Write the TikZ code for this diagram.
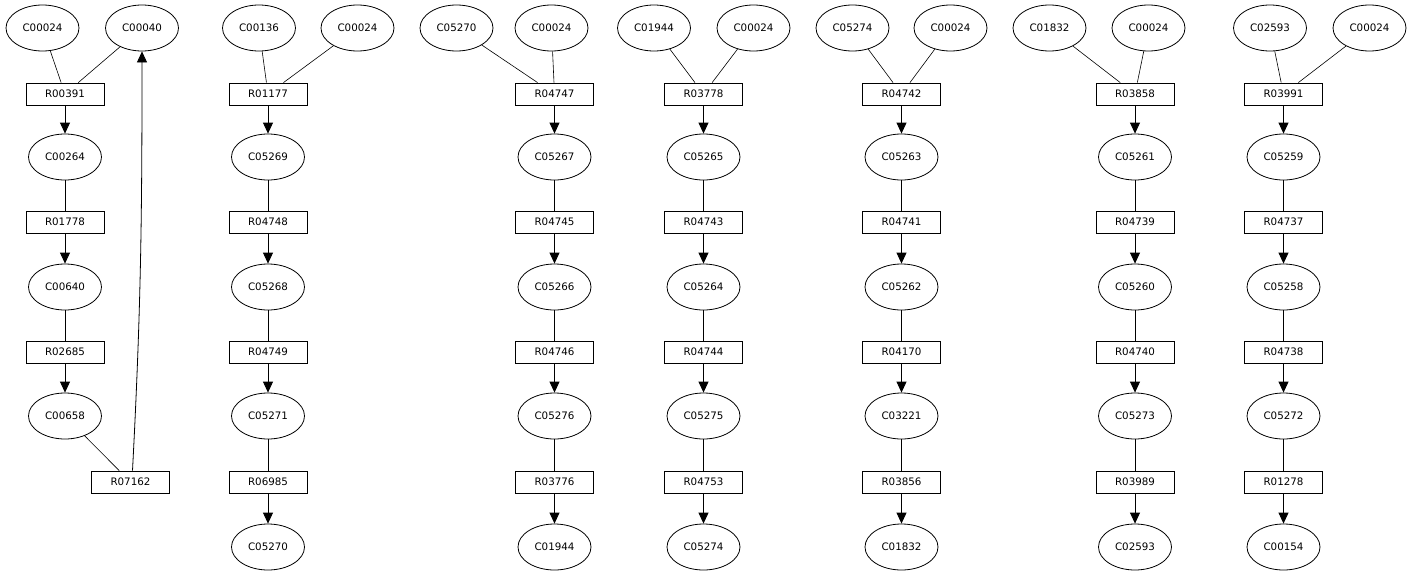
\documentclass[tikz,border=0pt]{standalone}
\usepackage{fontspec}
\setmainfont{DejaVu Sans}
\usetikzlibrary{arrows.meta,shapes.geometric}
\tikzset{
  cpd/.style={ellipse, draw, line width=0.8pt, minimum width=73pt, minimum height=46pt, inner sep=0pt, font=\fontsize{10.3}{12}\selectfont},
  rxn/.style={rectangle, draw, line width=0.8pt, minimum width=78pt, minimum height=22pt, inner sep=0pt, font=\fontsize{10.3}{12}\selectfont},
  link/.style={line width=0.6pt},
  arr/.style={line width=0.8pt, -{Triangle[length=11pt,width=10pt]}},
}
\newcommand\mychain[9]{%
  \node[rxn] (#2r1) at (#1,94) {#3};
  \node[cpd] (#2c1) at (#1,157) {#4};
  \node[rxn] (#2r2) at (#1,222) {#5};
  \node[cpd] (#2c2) at (#1,287) {#6};
  \node[rxn] (#2r3) at (#1,352) {#7};
  \node[cpd] (#2c3) at (#1,416) {#8};
  \node[rxn] (#2r4) at (#1,482) {#9};
  \draw[arr] (#2r1) -- (#2c1);
  \draw[link] (#2c1) -- (#2r2);
  \draw[arr] (#2r2) -- (#2c2);
  \draw[link] (#2c2) -- (#2r3);
  \draw[arr] (#2r3) -- (#2c3);
  \draw[link] (#2c3) -- (#2r4);
}
\newcommand\mytop[5]{% left x, left label, right x, right label, prefix
  \node[cpd] (#5a) at (#1,28) {#2};
  \node[cpd] (#5b) at (#3,28) {#4};
  \draw[link] (#5a) -- (#5r1);
  \draw[link] (#5b) -- (#5r1);
}
\newcommand\myend[3]{% x, prefix, label
  \node[cpd] (#2c4) at (#1,547) {#3};
  \draw[arr] (#2r4) -- (#2c4);
}
\begin{document}
\begin{tikzpicture}[x=1pt,y=-1pt]
\useasboundingbox (0,0) rectangle (1411,576);
% column 1
\node[rxn] (ar1) at (65,94) {R00391};
\node[cpd] (ac1) at (65,157) {C00264};
\node[rxn] (ar2) at (65,222) {R01778};
\node[cpd] (ac2) at (65,287) {C00640};
\node[rxn] (ar3) at (65,352) {R02685};
\node[cpd] (ac3) at (65,416) {C00658};
\node[rxn] (ar4) at (130.5,482) {R07162};
\node[cpd] (aa) at (42.5,28) {C00024};
\node[cpd] (ab) at (142,28) {C00040};
\draw[link] (aa) -- (ar1);
\draw[link] (ab) -- (ar1);
\draw[arr] (ar1) -- (ac1);
\draw[link] (ac1) -- (ar2);
\draw[arr] (ar2) -- (ac2);
\draw[link] (ac2) -- (ar3);
\draw[arr] (ar3) -- (ac3);
\draw[link] (ac3) -- (ar4);
\coordinate (ap) at ([xshift=2pt]ar4.north);
\draw[arr] (ap) to[out=87,in=-90] (ab.south);
% column 2
\mychain{268}{b}{R01177}{C05269}{R04748}{C05268}{R04749}{C05271}{R06985}
\mytop{259}{C00136}{357.5}{C00024}{b}
\myend{268}{b}{C05270}
% column 3
\mychain{554.5}{c}{R04747}{C05267}{R04745}{C05266}{R04746}{C05276}{R03776}
\mytop{456.5}{C05270}{551.5}{C00024}{c}
\myend{554.5}{c}{C01944}
% column 4
\mychain{703.5}{d}{R03778}{C05265}{R04743}{C05264}{R04744}{C05275}{R04753}
\mytop{654}{C01944}{753.5}{C00024}{d}
\myend{703.5}{d}{C05274}
% column 5
\mychain{901.5}{e}{R04742}{C05263}{R04741}{C05262}{R04170}{C03221}{R03856}
\mytop{852.5}{C05274}{950.5}{C00024}{e}
\myend{901.5}{e}{C01832}
% column 6
\mychain{1135}{f}{R03858}{C05261}{R04739}{C05260}{R04740}{C05273}{R03989}
\mytop{1049.5}{C01832}{1148.5}{C00024}{f}
\myend{1135}{f}{C02593}
% column 7
\mychain{1283.5}{g}{R03991}{C05259}{R04737}{C05258}{R04738}{C05272}{R01278}
\mytop{1270}{C02593}{1369.5}{C00024}{g}
\myend{1283.5}{g}{C00154}
\end{tikzpicture}
\end{document}
